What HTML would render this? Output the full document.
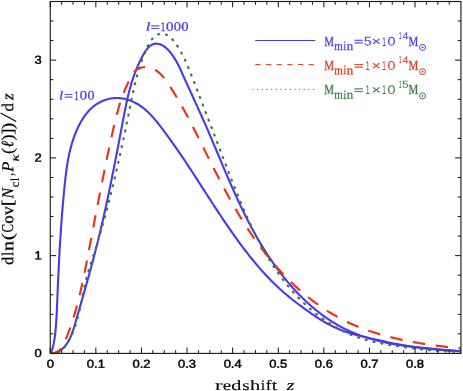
<!DOCTYPE html>
<html><head><meta charset="utf-8"><title>chart</title>
<style>html,body{margin:0;padding:0;background:#fff;}body{width:463px;height:391px;overflow:hidden;font-family:"Liberation Sans",sans-serif;}svg{display:block;will-change:transform;}</style>
</head><body>
<svg width="463" height="391" viewBox="0 0 463 391">
<rect x="0" y="0" width="463" height="391" fill="#fff"/>
<defs><clipPath id="c"><rect x="50.25" y="1.5" width="410.7" height="352.5"/></clipPath></defs>
<g clip-path="url(#c)" fill="none" stroke-linecap="butt" stroke-linejoin="round">
<path d="M50.86,353.10 L51.29,352.07 L51.69,350.92 L52.07,349.76 L52.42,348.60 L52.75,347.43 L53.05,346.26 L53.34,345.08 L53.61,343.89 L53.85,342.70 L54.08,341.51 L54.29,340.31 L54.49,339.10 L54.67,337.90 L54.84,336.69 L55.00,335.47 L55.14,334.26 L55.28,333.04 L55.40,331.83 L55.52,330.61 L55.63,329.39 L55.74,328.17 L55.84,326.95 L55.93,325.73 L56.02,324.52 L56.11,323.30 L56.20,322.08 L56.28,320.86 L56.35,319.65 L56.43,318.43 L56.50,317.21 L56.57,316.00 L56.63,314.78 L56.70,313.56 L56.76,312.35 L56.82,311.13 L56.87,309.91 L56.93,308.70 L56.98,307.48 L57.03,306.27 L57.08,305.05 L57.13,303.83 L57.18,302.62 L57.23,301.40 L57.28,300.18 L57.33,298.97 L57.38,297.75 L57.43,296.53 L57.48,295.32 L57.52,294.10 L57.57,292.88 L57.62,291.67 L57.68,290.45 L57.73,289.23 L57.78,288.01 L57.83,286.79 L57.88,285.58 L57.94,284.36 L57.99,283.14 L58.04,281.92 L58.10,280.70 L58.15,279.48 L58.21,278.26 L58.26,277.04 L58.32,275.83 L58.38,274.61 L58.43,273.39 L58.49,272.17 L58.55,270.95 L58.61,269.73 L58.67,268.51 L58.73,267.29 L58.79,266.07 L58.85,264.85 L58.91,263.63 L58.98,262.41 L59.04,261.19 L59.11,259.97 L59.17,258.75 L59.24,257.53 L59.30,256.31 L59.37,255.09 L59.44,253.87 L59.50,252.65 L59.57,251.42 L59.64,250.20 L59.71,248.98 L59.79,247.76 L59.86,246.54 L59.93,245.32 L60.00,244.10 L60.08,242.88 L60.15,241.66 L60.23,240.44 L60.31,239.21 L60.38,237.99 L60.46,236.77 L60.54,235.55 L60.62,234.33 L60.70,233.11 L60.78,231.89 L60.87,230.67 L60.95,229.45 L61.04,228.23 L61.12,227.00 L61.21,225.78 L61.29,224.56 L61.38,223.34 L61.47,222.12 L61.56,220.90 L61.65,219.68 L61.74,218.46 L61.84,217.24 L61.93,216.02 L62.03,214.79 L62.12,213.57 L62.22,212.35 L62.32,211.13 L62.42,209.91 L62.52,208.69 L62.62,207.47 L62.72,206.25 L62.82,205.03 L62.93,203.81 L63.03,202.59 L63.14,201.37 L63.25,200.15 L63.36,198.93 L63.47,197.71 L63.58,196.49 L63.69,195.27 L63.80,194.05 L63.92,192.83 L64.04,191.61 L64.15,190.39 L64.27,189.17 L64.39,187.95 L64.51,186.73 L64.63,185.52 L64.76,184.30 L64.88,183.08 L65.01,181.86 L65.14,180.64 L65.27,179.43 L65.41,178.21 L65.55,176.99 L65.69,175.78 L65.84,174.56 L65.99,173.35 L66.15,172.14 L66.31,170.92 L66.47,169.71 L66.64,168.50 L66.82,167.29 L67.00,166.09 L67.19,164.88 L67.38,163.68 L67.59,162.47 L67.79,161.27 L68.01,160.07 L68.23,158.87 L68.46,157.67 L68.70,156.48 L68.95,155.28 L69.20,154.09 L69.46,152.90 L69.74,151.71 L70.02,150.52 L70.31,149.34 L70.61,148.16 L70.92,146.98 L71.25,145.80 L71.58,144.62 L71.92,143.45 L72.28,142.28 L72.64,141.11 L73.02,139.95 L73.41,138.78 L73.82,137.62 L74.23,136.47 L74.66,135.31 L75.10,134.16 L75.56,133.01 L76.03,131.86 L76.51,130.72 L77.01,129.58 L77.52,128.45 L78.05,127.32 L78.59,126.20 L79.14,125.08 L79.72,123.98 L80.31,122.88 L80.92,121.80 L81.54,120.72 L82.18,119.66 L82.84,118.61 L83.51,117.58 L84.21,116.56 L84.92,115.56 L85.65,114.58 L86.41,113.62 L87.18,112.67 L87.97,111.75 L88.78,110.84 L89.61,109.96 L90.47,109.11 L91.34,108.28 L92.24,107.47 L93.15,106.69 L94.09,105.94 L95.06,105.22 L96.04,104.52 L97.05,103.86 L98.08,103.23 L99.14,102.63 L100.22,102.06 L101.32,101.53 L102.43,101.03 L103.57,100.57 L104.72,100.15 L105.88,99.76 L107.06,99.41 L108.24,99.09 L109.44,98.82 L110.65,98.58 L111.86,98.39 L113.08,98.24 L114.30,98.12 L115.52,98.06 L116.75,98.03 L117.97,98.05 L119.19,98.11 L120.41,98.21 L121.62,98.36 L122.83,98.55 L124.03,98.77 L125.23,99.04 L126.42,99.34 L127.60,99.67 L128.77,100.05 L129.93,100.45 L131.07,100.89 L132.21,101.36 L133.33,101.86 L134.43,102.39 L135.52,102.95 L136.60,103.53 L137.66,104.14 L138.69,104.77 L139.71,105.43 L140.72,106.11 L141.70,106.81 L142.67,107.54 L143.63,108.28 L144.57,109.05 L145.49,109.83 L146.40,110.63 L147.30,111.45 L148.18,112.28 L149.05,113.13 L149.91,114.00 L150.76,114.88 L151.60,115.77 L152.43,116.67 L153.24,117.58 L154.05,118.51 L154.86,119.44 L155.65,120.39 L156.43,121.34 L157.21,122.29 L157.99,123.26 L158.75,124.23 L159.52,125.20 L160.27,126.18 L161.03,127.16 L161.78,128.14 L162.52,129.13 L163.27,130.11 L164.01,131.10 L164.75,132.09 L165.49,133.08 L166.22,134.07 L166.95,135.06 L167.68,136.06 L168.41,137.05 L169.13,138.05 L169.85,139.05 L170.57,140.05 L171.28,141.05 L172.00,142.05 L172.71,143.05 L173.42,144.05 L174.13,145.06 L174.83,146.06 L175.53,147.07 L176.24,148.07 L176.93,149.08 L177.63,150.09 L178.33,151.10 L179.02,152.11 L179.71,153.12 L180.40,154.14 L181.09,155.15 L181.78,156.17 L182.46,157.18 L183.15,158.20 L183.83,159.21 L184.51,160.23 L185.19,161.25 L185.87,162.27 L186.54,163.29 L187.22,164.31 L187.89,165.33 L188.57,166.35 L189.24,167.37 L189.91,168.39 L190.58,169.41 L191.25,170.43 L191.92,171.46 L192.58,172.48 L193.25,173.50 L193.92,174.53 L194.58,175.55 L195.25,176.58 L195.91,177.60 L196.57,178.63 L197.23,179.65 L197.90,180.68 L198.56,181.71 L199.22,182.73 L199.88,183.76 L200.54,184.79 L201.20,185.81 L201.86,186.84 L202.52,187.86 L203.18,188.89 L203.85,189.92 L204.51,190.94 L205.17,191.97 L205.83,193.00 L206.49,194.02 L207.15,195.05 L207.81,196.07 L208.47,197.10 L209.13,198.12 L209.79,199.15 L210.46,200.17 L211.12,201.20 L211.78,202.22 L212.45,203.25 L213.11,204.27 L213.78,205.29 L214.45,206.32 L215.11,207.34 L215.78,208.36 L216.45,209.38 L217.12,210.40 L217.79,211.42 L218.46,212.44 L219.14,213.46 L219.81,214.48 L220.49,215.50 L221.16,216.52 L221.84,217.53 L222.52,218.55 L223.20,219.56 L223.88,220.58 L224.57,221.59 L225.25,222.60 L225.94,223.61 L226.63,224.62 L227.32,225.63 L228.01,226.64 L228.70,227.65 L229.40,228.66 L230.09,229.67 L230.79,230.67 L231.50,231.67 L232.20,232.68 L232.90,233.68 L233.61,234.68 L234.32,235.68 L235.03,236.68 L235.75,237.68 L236.46,238.67 L237.18,239.67 L237.90,240.66 L238.62,241.65 L239.35,242.65 L240.08,243.63 L240.81,244.62 L241.54,245.61 L242.28,246.59 L243.02,247.58 L243.76,248.56 L244.50,249.54 L245.25,250.51 L246.00,251.49 L246.75,252.46 L247.51,253.43 L248.26,254.40 L249.02,255.36 L249.79,256.33 L250.56,257.29 L251.33,258.25 L252.10,259.20 L252.87,260.15 L253.65,261.10 L254.44,262.05 L255.22,262.99 L256.01,263.93 L256.80,264.87 L257.60,265.80 L258.40,266.73 L259.20,267.66 L260.01,268.58 L260.81,269.50 L261.63,270.42 L262.44,271.33 L263.26,272.24 L264.09,273.14 L264.91,274.04 L265.74,274.93 L266.58,275.83 L267.41,276.71 L268.26,277.60 L269.10,278.47 L269.95,279.35 L270.80,280.22 L271.66,281.08 L272.52,281.94 L273.39,282.80 L274.26,283.65 L275.13,284.50 L276.01,285.34 L276.90,286.18 L277.78,287.01 L278.68,287.84 L279.58,288.67 L280.48,289.49 L281.39,290.30 L282.30,291.11 L283.22,291.92 L284.14,292.72 L285.06,293.52 L285.99,294.31 L286.93,295.10 L287.86,295.88 L288.81,296.66 L289.75,297.44 L290.70,298.21 L291.66,298.98 L292.62,299.75 L293.58,300.51 L294.54,301.26 L295.51,302.02 L296.48,302.77 L297.46,303.51 L298.43,304.25 L299.41,304.99 L300.40,305.73 L301.39,306.46 L302.38,307.19 L303.37,307.91 L304.36,308.63 L305.36,309.35 L306.36,310.06 L307.36,310.78 L308.37,311.48 L309.38,312.19 L310.39,312.89 L311.40,313.59 L312.41,314.29 L313.43,314.98 L314.45,315.67 L315.47,316.35 L316.50,317.02 L317.52,317.70 L318.56,318.36 L319.59,319.02 L320.63,319.67 L321.68,320.31 L322.72,320.94 L323.77,321.57 L324.83,322.19 L325.89,322.79 L326.96,323.39 L328.03,323.98 L329.11,324.55 L330.19,325.12 L331.28,325.67 L332.37,326.21 L333.47,326.74 L334.57,327.25 L335.68,327.76 L336.80,328.25 L337.92,328.74 L339.04,329.21 L340.17,329.67 L341.30,330.11 L342.44,330.55 L343.58,330.98 L344.73,331.39 L345.88,331.80 L347.04,332.19 L348.20,332.57 L349.36,332.94 L350.53,333.31 L351.70,333.66 L352.87,334.00 L354.05,334.34 L355.23,334.66 L356.41,334.98 L357.60,335.29 L358.79,335.60 L359.98,335.90 L361.17,336.19 L362.36,336.48 L363.56,336.77 L364.75,337.05 L365.95,337.33 L367.14,337.60 L368.34,337.88 L369.54,338.15 L370.74,338.42 L371.93,338.69 L373.13,338.97 L374.33,339.24 L375.53,339.51 L376.72,339.78 L377.92,340.05 L379.11,340.32 L380.31,340.59 L381.51,340.86 L382.70,341.13 L383.90,341.39 L385.10,341.65 L386.29,341.91 L387.49,342.17 L388.69,342.43 L389.89,342.68 L391.08,342.93 L392.28,343.18 L393.48,343.42 L394.68,343.66 L395.88,343.90 L397.08,344.13 L398.28,344.36 L399.49,344.59 L400.69,344.81 L401.89,345.02 L403.10,345.23 L404.30,345.44 L405.51,345.65 L406.71,345.85 L407.92,346.04 L409.13,346.23 L410.34,346.42 L411.55,346.61 L412.76,346.79 L413.97,346.96 L415.18,347.14 L416.39,347.30 L417.60,347.47 L418.81,347.63 L420.03,347.79 L421.24,347.94 L422.45,348.09 L423.67,348.24 L424.88,348.38 L426.10,348.52 L427.31,348.66 L428.53,348.79 L429.75,348.92 L430.96,349.05 L432.18,349.17 L433.40,349.29 L434.62,349.41 L435.84,349.52 L437.06,349.63 L438.28,349.73 L439.50,349.83 L440.72,349.93 L441.94,350.03 L443.16,350.12 L444.38,350.21 L445.60,350.30 L446.82,350.38 L448.05,350.46 L449.27,350.54 L450.49,350.62 L451.71,350.69 L452.94,350.76 L454.16,350.82 L455.39,350.89 L456.61,350.95 L457.83,351.00 L459.06,351.06 L460.28,351.11 L461.50,351.16" stroke="#4c38ea" stroke-width="2.1"/>
<path d="M50.60,353.05 L52.00,353.10 L53.44,353.10 L54.81,352.92 L56.13,352.58 L57.39,352.12 L58.59,351.54 L59.74,350.86 L60.83,350.10 L61.87,349.27 L62.86,348.38 L63.79,347.45 L64.68,346.49 L65.51,345.49 L66.30,344.46 L67.05,343.39 L67.76,342.30 L68.43,341.18 L69.07,340.03 L69.67,338.86 L70.24,337.67 L70.78,336.45 L71.30,335.22 L71.79,333.97 L72.26,332.71 L72.71,331.43 L73.14,330.14 L73.56,328.84 L73.97,327.54 L74.37,326.22 L74.75,324.91 L75.14,323.59 L75.52,322.27 L75.90,320.95 L76.28,319.63 L76.66,318.32 L77.04,317.00 L77.42,315.69 L77.80,314.38 L78.18,313.07 L78.55,311.76 L78.93,310.45 L79.31,309.14 L79.69,307.84 L80.06,306.53 L80.44,305.23 L80.81,303.92 L81.19,302.62 L81.56,301.32 L81.94,300.02 L82.31,298.71 L82.68,297.42 L83.05,296.12 L83.43,294.82 L83.80,293.52 L84.17,292.22 L84.54,290.93 L84.90,289.63 L85.27,288.33 L85.64,287.04 L86.00,285.74 L86.37,284.45 L86.73,283.16 L87.09,281.86 L87.46,280.57 L87.82,279.27 L88.18,277.98 L88.54,276.69 L88.89,275.39 L89.25,274.10 L89.61,272.81 L89.96,271.51 L90.32,270.22 L90.67,268.93 L91.02,267.63 L91.37,266.34 L91.72,265.05 L92.07,263.75 L92.41,262.46 L92.76,261.16 L93.10,259.87 L93.44,258.57 L93.78,257.27 L94.12,255.98 L94.46,254.68 L94.80,253.38 L95.13,252.08 L95.47,250.79 L95.80,249.49 L96.13,248.19 L96.46,246.88 L96.79,245.58 L97.11,244.28 L97.44,242.98 L97.76,241.67 L98.08,240.37 L98.40,239.06 L98.72,237.76 L99.04,236.45 L99.35,235.14 L99.67,233.83 L99.98,232.52 L100.29,231.21 L100.60,229.90 L100.91,228.59 L101.22,227.28 L101.53,225.97 L101.83,224.66 L102.13,223.34 L102.44,222.03 L102.74,220.72 L103.04,219.40 L103.34,218.09 L103.63,216.77 L103.93,215.46 L104.22,214.14 L104.52,212.82 L104.81,211.50 L105.10,210.19 L105.39,208.87 L105.68,207.55 L105.97,206.23 L106.26,204.91 L106.54,203.59 L106.83,202.27 L107.11,200.95 L107.39,199.63 L107.68,198.31 L107.96,196.99 L108.24,195.67 L108.51,194.34 L108.79,193.02 L109.07,191.70 L109.35,190.38 L109.62,189.05 L109.89,187.73 L110.17,186.41 L110.44,185.08 L110.71,183.76 L110.98,182.43 L111.25,181.11 L111.52,179.78 L111.79,178.46 L112.06,177.13 L112.33,175.81 L112.59,174.49 L112.86,173.16 L113.12,171.83 L113.39,170.51 L113.65,169.18 L113.91,167.86 L114.17,166.53 L114.43,165.21 L114.70,163.88 L114.96,162.56 L115.22,161.23 L115.47,159.91 L115.73,158.58 L115.99,157.26 L116.25,155.93 L116.50,154.61 L116.76,153.28 L117.02,151.96 L117.27,150.63 L117.53,149.31 L117.78,147.98 L118.03,146.66 L118.29,145.33 L118.54,144.01 L118.79,142.68 L119.05,141.36 L119.30,140.04 L119.55,138.71 L119.80,137.39 L120.05,136.07 L120.30,134.75 L120.55,133.42 L120.80,132.10 L121.05,130.78 L121.30,129.46 L121.55,128.14 L121.80,126.82 L122.05,125.50 L122.30,124.18 L122.55,122.86 L122.80,121.54 L123.05,120.22 L123.29,118.90 L123.54,117.58 L123.79,116.26 L124.05,114.95 L124.30,113.63 L124.55,112.31 L124.81,111.00 L125.07,109.68 L125.33,108.37 L125.60,107.06 L125.87,105.74 L126.14,104.43 L126.42,103.12 L126.70,101.81 L126.99,100.50 L127.29,99.20 L127.58,97.89 L127.89,96.58 L128.20,95.28 L128.52,93.97 L128.84,92.67 L129.18,91.37 L129.52,90.07 L129.86,88.77 L130.22,87.47 L130.59,86.18 L130.96,84.88 L131.34,83.59 L131.74,82.30 L132.14,81.01 L132.56,79.72 L132.98,78.43 L133.42,77.14 L133.86,75.86 L134.32,74.58 L134.79,73.30 L135.28,72.02 L135.77,70.74 L136.28,69.46 L136.81,68.19 L137.34,66.92 L137.90,65.65 L138.46,64.38 L139.04,63.11 L139.64,61.85 L140.25,60.59 L140.88,59.33 L141.52,58.07 L142.18,56.81 L142.86,55.56 L143.55,54.32 L144.27,53.10 L145.01,51.91 L145.77,50.76 L146.56,49.66 L147.38,48.63 L148.23,47.66 L149.10,46.77 L150.02,45.97 L150.96,45.27 L151.95,44.68 L152.97,44.21 L154.04,43.87 L155.14,43.67 L156.30,43.61 L157.49,43.71 L158.71,43.95 L159.95,44.32 L161.18,44.81 L162.41,45.42 L163.60,46.13 L164.76,46.94 L165.89,47.82 L166.97,48.78 L168.02,49.81 L169.03,50.89 L170.01,52.01 L170.94,53.17 L171.84,54.35 L172.69,55.54 L173.51,56.74 L174.29,57.94 L175.04,59.13 L175.75,60.33 L176.43,61.52 L177.09,62.71 L177.72,63.90 L178.33,65.10 L178.92,66.29 L179.50,67.48 L180.06,68.67 L180.61,69.86 L181.15,71.05 L181.69,72.25 L182.23,73.45 L182.76,74.64 L183.30,75.84 L183.84,77.04 L184.38,78.25 L184.93,79.45 L185.47,80.66 L186.02,81.87 L186.57,83.08 L187.12,84.29 L187.68,85.51 L188.23,86.72 L188.78,87.94 L189.34,89.15 L189.90,90.37 L190.46,91.60 L191.01,92.82 L191.57,94.04 L192.13,95.27 L192.69,96.49 L193.26,97.72 L193.82,98.95 L194.38,100.18 L194.94,101.41 L195.50,102.64 L196.06,103.87 L196.63,105.10 L197.19,106.34 L197.75,107.57 L198.31,108.81 L198.87,110.04 L199.43,111.28 L199.99,112.52 L200.54,113.76 L201.10,115.00 L201.65,116.23 L202.21,117.47 L202.76,118.71 L203.31,119.96 L203.86,121.20 L204.41,122.44 L204.96,123.68 L205.51,124.92 L206.05,126.16 L206.59,127.41 L207.13,128.65 L207.67,129.89 L208.21,131.13 L208.74,132.38 L209.28,133.62 L209.81,134.86 L210.34,136.10 L210.87,137.35 L211.40,138.59 L211.93,139.83 L212.46,141.08 L212.98,142.32 L213.51,143.56 L214.03,144.80 L214.56,146.05 L215.08,147.29 L215.60,148.53 L216.13,149.77 L216.65,151.01 L217.17,152.26 L217.69,153.50 L218.21,154.74 L218.73,155.98 L219.25,157.22 L219.77,158.46 L220.30,159.70 L220.82,160.94 L221.34,162.18 L221.86,163.41 L222.38,164.65 L222.90,165.89 L223.43,167.13 L223.95,168.36 L224.47,169.60 L225.00,170.83 L225.52,172.07 L226.05,173.30 L226.58,174.54 L227.10,175.77 L227.63,177.00 L228.16,178.23 L228.69,179.46 L229.23,180.69 L229.76,181.92 L230.30,183.15 L230.83,184.38 L231.37,185.61 L231.91,186.83 L232.45,188.06 L233.00,189.28 L233.54,190.51 L234.09,191.73 L234.64,192.95 L235.19,194.17 L235.74,195.39 L236.30,196.61 L236.85,197.83 L237.41,199.05 L237.97,200.26 L238.54,201.48 L239.11,202.69 L239.67,203.91 L240.25,205.12 L240.82,206.33 L241.40,207.54 L241.98,208.75 L242.56,209.95 L243.15,211.16 L243.74,212.36 L244.33,213.57 L244.93,214.77 L245.53,215.97 L246.13,217.17 L246.73,218.37 L247.34,219.56 L247.96,220.76 L248.57,221.95 L249.19,223.15 L249.82,224.34 L250.44,225.53 L251.08,226.71 L251.71,227.90 L252.35,229.09 L252.99,230.27 L253.64,231.45 L254.29,232.63 L254.95,233.81 L255.61,234.99 L256.28,236.16 L256.95,237.34 L257.62,238.51 L258.30,239.68 L258.98,240.85 L259.67,242.01 L260.36,243.18 L261.06,244.34 L261.77,245.50 L262.47,246.66 L263.19,247.82 L263.90,248.97 L264.63,250.13 L265.35,251.28 L266.09,252.43 L266.83,253.57 L267.57,254.71 L268.32,255.85 L269.07,256.99 L269.83,258.12 L270.59,259.25 L271.36,260.38 L272.13,261.50 L272.91,262.62 L273.69,263.74 L274.48,264.85 L275.28,265.96 L276.07,267.07 L276.88,268.17 L277.69,269.27 L278.50,270.36 L279.32,271.45 L280.15,272.54 L280.97,273.62 L281.81,274.69 L282.65,275.77 L283.50,276.83 L284.35,277.90 L285.20,278.95 L286.06,280.00 L286.93,281.05 L287.80,282.09 L288.68,283.13 L289.56,284.16 L290.45,285.19 L291.34,286.21 L292.24,287.22 L293.14,288.23 L294.05,289.24 L294.97,290.23 L295.89,291.22 L296.81,292.21 L297.74,293.19 L298.68,294.16 L299.62,295.13 L300.57,296.09 L301.52,297.04 L302.48,297.98 L303.44,298.92 L304.41,299.85 L305.39,300.78 L306.37,301.70 L307.35,302.61 L308.34,303.51 L309.34,304.41 L310.34,305.30 L311.35,306.18 L312.37,307.05 L313.38,307.91 L314.41,308.77 L315.44,309.62 L316.48,310.46 L317.52,311.29 L318.57,312.12 L319.62,312.94 L320.68,313.74 L321.74,314.54 L322.81,315.33 L323.89,316.11 L324.97,316.89 L326.06,317.65 L327.15,318.40 L328.25,319.15 L329.35,319.88 L330.46,320.61 L331.58,321.33 L332.70,322.04 L333.83,322.73 L334.96,323.42 L336.10,324.10 L337.25,324.77 L338.40,325.42 L339.56,326.07 L340.72,326.71 L341.89,327.34 L343.06,327.95 L344.25,328.56 L345.43,329.15 L346.63,329.74 L347.82,330.31 L349.03,330.87 L350.24,331.43 L351.46,331.97 L352.68,332.50 L353.91,333.01 L355.14,333.52 L356.38,334.01 L357.63,334.50 L358.88,334.97 L360.14,335.43 L361.40,335.88 L362.67,336.32 L363.95,336.75 L365.23,337.17 L366.51,337.58 L367.80,337.98 L369.09,338.37 L370.39,338.74 L371.69,339.11 L373.00,339.47 L374.31,339.83 L375.62,340.17 L376.94,340.50 L378.26,340.83 L379.58,341.14 L380.91,341.45 L382.24,341.75 L383.58,342.05 L384.91,342.33 L386.25,342.61 L387.60,342.88 L388.94,343.14 L390.29,343.40 L391.64,343.64 L392.99,343.89 L394.34,344.12 L395.70,344.35 L397.05,344.57 L398.41,344.79 L399.77,345.00 L401.13,345.21 L402.49,345.41 L403.85,345.60 L405.22,345.79 L406.58,345.97 L407.94,346.15 L409.31,346.33 L410.67,346.50 L412.04,346.67 L413.40,346.83 L414.77,346.99 L416.13,347.14 L417.49,347.29 L418.85,347.44 L420.22,347.58 L421.58,347.73 L422.93,347.86 L424.29,348.00 L425.65,348.13 L427.00,348.26 L428.36,348.39 L429.71,348.52 L431.06,348.64 L432.40,348.77 L433.75,348.89 L435.09,349.01 L436.43,349.13 L437.77,349.24 L439.10,349.36 L440.43,349.48 L441.76,349.59 L443.08,349.71 L444.41,349.82 L445.72,349.94 L447.04,350.06 L448.35,350.17 L449.65,350.29 L450.95,350.41 L452.25,350.52 L453.54,350.64 L454.83,350.76 L456.12,350.89 L457.40,351.01 L458.67,351.14 L459.94,351.26 L461.20,351.39" stroke="#4c38ea" stroke-width="2.1"/>
<path d="M50.60,353.10 L51.99,353.10 L53.41,352.99 L54.73,352.72 L55.95,352.33 L57.07,351.83 L58.11,351.22 L59.06,350.51 L59.94,349.71 L60.76,348.83 L61.51,347.89 L62.21,346.87 L62.86,345.81 L63.47,344.70 L64.04,343.55 L64.58,342.37 L65.10,341.17 L65.60,339.96 L66.09,338.75 L66.57,337.54 L67.04,336.32 L67.51,335.11 L67.97,333.90 L68.42,332.69 L68.86,331.49 L69.30,330.28 L69.73,329.07 L70.15,327.86 L70.57,326.65 L70.98,325.45 L71.39,324.24 L71.79,323.03 L72.18,321.82 L72.57,320.61 L72.95,319.40 L73.33,318.19 L73.70,316.98 L74.07,315.77 L74.43,314.56 L74.78,313.35 L75.13,312.13 L75.48,310.92 L75.82,309.70 L76.16,308.48 L76.50,307.26 L76.83,306.04 L77.16,304.82 L77.48,303.60 L77.80,302.37 L78.11,301.14 L78.43,299.92 L78.74,298.69 L79.04,297.46 L79.34,296.22 L79.64,294.99 L79.94,293.75 L80.23,292.52 L80.52,291.28 L80.81,290.04 L81.10,288.80 L81.38,287.56 L81.66,286.32 L81.93,285.08 L82.21,283.83 L82.48,282.59 L82.75,281.35 L83.02,280.10 L83.29,278.85 L83.55,277.61 L83.81,276.36 L84.07,275.11 L84.33,273.86 L84.58,272.61 L84.84,271.36 L85.09,270.11 L85.34,268.86 L85.59,267.61 L85.84,266.35 L86.09,265.10 L86.34,263.85 L86.58,262.60 L86.83,261.34 L87.07,260.09 L87.31,258.84 L87.56,257.59 L87.80,256.33 L88.04,255.08 L88.28,253.83 L88.52,252.57 L88.76,251.32 L89.00,250.07 L89.24,248.82 L89.47,247.56 L89.71,246.31 L89.95,245.06 L90.19,243.81 L90.43,242.56 L90.67,241.31 L90.90,240.06 L91.14,238.80 L91.38,237.55 L91.62,236.30 L91.85,235.05 L92.09,233.80 L92.33,232.55 L92.57,231.30 L92.80,230.05 L93.04,228.81 L93.28,227.56 L93.52,226.31 L93.75,225.06 L93.99,223.81 L94.23,222.56 L94.47,221.31 L94.70,220.06 L94.94,218.82 L95.18,217.57 L95.42,216.32 L95.66,215.07 L95.90,213.82 L96.13,212.58 L96.37,211.33 L96.61,210.08 L96.85,208.84 L97.09,207.59 L97.33,206.34 L97.57,205.09 L97.81,203.85 L98.05,202.60 L98.29,201.35 L98.54,200.11 L98.78,198.86 L99.02,197.61 L99.26,196.37 L99.50,195.12 L99.75,193.87 L99.99,192.63 L100.24,191.38 L100.48,190.14 L100.73,188.89 L100.97,187.64 L101.22,186.40 L101.46,185.15 L101.71,183.91 L101.96,182.66 L102.21,181.41 L102.45,180.17 L102.70,178.92 L102.95,177.68 L103.20,176.43 L103.46,175.18 L103.71,173.94 L103.96,172.69 L104.21,171.45 L104.47,170.20 L104.72,168.95 L104.97,167.71 L105.23,166.46 L105.49,165.22 L105.74,163.97 L106.00,162.72 L106.26,161.48 L106.52,160.23 L106.78,158.98 L107.04,157.74 L107.30,156.49 L107.57,155.25 L107.83,154.00 L108.09,152.75 L108.36,151.51 L108.62,150.26 L108.89,149.01 L109.16,147.77 L109.43,146.52 L109.70,145.27 L109.97,144.02 L110.24,142.78 L110.51,141.53 L110.79,140.28 L111.06,139.03 L111.34,137.79 L111.61,136.54 L111.89,135.29 L112.17,134.04 L112.45,132.80 L112.73,131.55 L113.01,130.30 L113.30,129.05 L113.58,127.80 L113.87,126.55 L114.16,125.31 L114.45,124.06 L114.75,122.81 L115.05,121.57 L115.35,120.32 L115.65,119.08 L115.96,117.84 L116.28,116.60 L116.60,115.36 L116.92,114.12 L117.25,112.89 L117.58,111.66 L117.92,110.42 L118.27,109.20 L118.62,107.97 L118.98,106.74 L119.34,105.52 L119.72,104.31 L120.10,103.09 L120.48,101.88 L120.88,100.67 L121.29,99.46 L121.70,98.26 L122.12,97.06 L122.55,95.87 L122.99,94.68 L123.44,93.49 L123.90,92.31 L124.38,91.13 L124.86,89.96 L125.35,88.79 L125.85,87.63 L126.37,86.47 L126.90,85.31 L127.44,84.16 L127.99,83.02 L128.55,81.88 L129.13,80.75 L129.72,79.62 L130.32,78.50 L130.94,77.39 L131.58,76.28 L132.22,75.18 L132.89,74.09 L133.59,73.03 L134.33,72.02 L135.14,71.07 L136.03,70.20 L137.00,69.42 L138.08,68.77 L139.25,68.23 L140.51,67.81 L141.82,67.50 L143.15,67.29 L144.49,67.18 L145.81,67.16 L147.09,67.23 L148.33,67.37 L149.54,67.60 L150.71,67.90 L151.85,68.28 L152.95,68.72 L154.03,69.22 L155.08,69.79 L156.09,70.42 L157.08,71.11 L158.05,71.84 L158.99,72.62 L159.90,73.45 L160.80,74.32 L161.67,75.23 L162.52,76.18 L163.35,77.15 L164.17,78.16 L164.97,79.19 L165.76,80.24 L166.53,81.31 L167.29,82.40 L168.03,83.49 L168.77,84.60 L169.50,85.71 L170.22,86.82 L170.94,87.93 L171.65,89.05 L172.35,90.16 L173.05,91.27 L173.74,92.38 L174.42,93.49 L175.10,94.61 L175.77,95.72 L176.44,96.83 L177.10,97.94 L177.76,99.05 L178.41,100.16 L179.06,101.27 L179.70,102.39 L180.34,103.50 L180.97,104.61 L181.60,105.72 L182.22,106.84 L182.85,107.95 L183.46,109.06 L184.07,110.17 L184.68,111.29 L185.29,112.40 L185.89,113.52 L186.49,114.63 L187.09,115.75 L187.68,116.86 L188.27,117.98 L188.86,119.09 L189.45,120.21 L190.03,121.33 L190.61,122.45 L191.19,123.57 L191.77,124.69 L192.35,125.81 L192.92,126.93 L193.50,128.05 L194.07,129.17 L194.64,130.29 L195.21,131.42 L195.78,132.54 L196.35,133.67 L196.92,134.79 L197.48,135.92 L198.05,137.05 L198.62,138.18 L199.18,139.30 L199.75,140.43 L200.32,141.57 L200.88,142.70 L201.45,143.83 L202.01,144.96 L202.58,146.09 L203.14,147.23 L203.71,148.36 L204.28,149.49 L204.84,150.63 L205.41,151.76 L205.97,152.90 L206.54,154.03 L207.11,155.17 L207.68,156.30 L208.24,157.44 L208.81,158.57 L209.38,159.71 L209.95,160.84 L210.52,161.98 L211.09,163.12 L211.66,164.25 L212.23,165.39 L212.81,166.52 L213.38,167.66 L213.96,168.79 L214.53,169.93 L215.11,171.06 L215.69,172.19 L216.27,173.33 L216.85,174.46 L217.43,175.59 L218.01,176.73 L218.59,177.86 L219.18,178.99 L219.77,180.12 L220.35,181.25 L220.94,182.38 L221.53,183.51 L222.13,184.64 L222.72,185.76 L223.32,186.89 L223.92,188.02 L224.52,189.14 L225.12,190.26 L225.72,191.39 L226.33,192.51 L226.93,193.63 L227.54,194.75 L228.15,195.87 L228.77,196.99 L229.38,198.10 L230.00,199.22 L230.62,200.33 L231.24,201.45 L231.87,202.56 L232.50,203.67 L233.13,204.78 L233.76,205.88 L234.39,206.99 L235.03,208.09 L235.67,209.20 L236.31,210.30 L236.96,211.40 L237.61,212.50 L238.26,213.59 L238.91,214.69 L239.57,215.78 L240.23,216.87 L240.89,217.96 L241.56,219.05 L242.23,220.14 L242.90,221.22 L243.58,222.30 L244.25,223.38 L244.94,224.46 L245.62,225.54 L246.31,226.61 L247.00,227.69 L247.70,228.76 L248.40,229.82 L249.10,230.89 L249.81,231.95 L250.52,233.01 L251.23,234.07 L251.95,235.13 L252.67,236.18 L253.40,237.23 L254.13,238.28 L254.86,239.33 L255.60,240.37 L256.34,241.42 L257.09,242.45 L257.84,243.49 L258.59,244.52 L259.35,245.55 L260.11,246.58 L260.88,247.61 L261.64,248.63 L262.42,249.65 L263.20,250.66 L263.98,251.67 L264.76,252.68 L265.55,253.69 L266.34,254.69 L267.14,255.69 L267.94,256.69 L268.75,257.68 L269.56,258.67 L270.37,259.66 L271.19,260.64 L272.01,261.62 L272.83,262.59 L273.66,263.56 L274.49,264.53 L275.33,265.49 L276.17,266.45 L277.02,267.41 L277.87,268.36 L278.72,269.31 L279.58,270.25 L280.44,271.19 L281.30,272.13 L282.17,273.06 L283.05,273.98 L283.93,274.91 L284.81,275.82 L285.69,276.74 L286.58,277.65 L287.48,278.55 L288.38,279.45 L289.28,280.35 L290.18,281.24 L291.09,282.12 L292.01,283.00 L292.93,283.88 L293.85,284.75 L294.78,285.62 L295.71,286.48 L296.64,287.34 L297.58,288.19 L298.53,289.04 L299.47,289.88 L300.42,290.71 L301.38,291.54 L302.34,292.37 L303.30,293.19 L304.27,294.00 L305.25,294.81 L306.22,295.62 L307.20,296.41 L308.19,297.21 L309.18,297.99 L310.17,298.77 L311.17,299.55 L312.17,300.32 L313.18,301.08 L314.19,301.84 L315.20,302.59 L316.22,303.34 L317.24,304.08 L318.27,304.81 L319.30,305.54 L320.34,306.26 L321.38,306.97 L322.42,307.68 L323.47,308.38 L324.52,309.08 L325.58,309.77 L326.64,310.45 L327.70,311.13 L328.77,311.80 L329.85,312.46 L330.93,313.12 L332.01,313.76 L333.10,314.41 L334.19,315.04 L335.28,315.67 L336.38,316.29 L337.49,316.91 L338.59,317.51 L339.71,318.12 L340.82,318.71 L341.94,319.29 L343.07,319.87 L344.20,320.44 L345.33,321.01 L346.47,321.56 L347.61,322.11 L348.76,322.66 L349.91,323.19 L351.07,323.72 L352.23,324.24 L353.39,324.75 L354.56,325.25 L355.73,325.75 L356.91,326.24 L358.09,326.72 L359.27,327.20 L360.46,327.67 L361.65,328.13 L362.84,328.58 L364.04,329.03 L365.24,329.47 L366.45,329.91 L367.65,330.34 L368.86,330.76 L370.08,331.17 L371.29,331.58 L372.51,331.98 L373.73,332.38 L374.96,332.77 L376.18,333.15 L377.41,333.53 L378.64,333.90 L379.88,334.27 L381.11,334.63 L382.35,334.98 L383.59,335.33 L384.84,335.68 L386.08,336.01 L387.33,336.34 L388.57,336.67 L389.82,336.99 L391.08,337.31 L392.33,337.62 L393.58,337.92 L394.84,338.22 L396.10,338.52 L397.35,338.81 L398.61,339.09 L399.87,339.37 L401.14,339.64 L402.40,339.91 L403.66,340.18 L404.93,340.44 L406.19,340.70 L407.46,340.95 L408.72,341.20 L409.99,341.44 L411.25,341.68 L412.52,341.91 L413.79,342.14 L415.05,342.37 L416.32,342.59 L417.59,342.81 L418.85,343.02 L420.12,343.23 L421.39,343.44 L422.65,343.64 L423.92,343.84 L425.18,344.04 L426.45,344.23 L427.71,344.42 L428.97,344.60 L430.24,344.78 L431.50,344.96 L432.76,345.14 L434.01,345.31 L435.27,345.48 L436.53,345.64 L437.78,345.81 L439.04,345.97 L440.29,346.12 L441.54,346.28 L442.79,346.43 L444.04,346.58 L445.28,346.73 L446.52,346.87 L447.76,347.01 L449.00,347.15 L450.24,347.29 L451.48,347.42 L452.71,347.56 L453.94,347.69 L455.17,347.82 L456.39,347.94 L457.61,348.07 L458.83,348.19 L460.05,348.31 L461.26,348.43" stroke="#e8341a" stroke-width="2.15" stroke-dasharray="12.5 10.54" stroke-dashoffset="0.64"/>
<path d="M50.60,353.10 L52.08,353.10 L53.61,353.10 L55.06,353.04 L56.43,352.74 L57.73,352.32 L58.95,351.79 L60.10,351.15 L61.19,350.42 L62.23,349.60 L63.20,348.70 L64.12,347.72 L65.00,346.69 L65.83,345.60 L66.62,344.47 L67.37,343.30 L68.09,342.10 L68.78,340.89 L69.45,339.66 L70.09,338.43 L70.71,337.18 L71.31,335.93 L71.89,334.67 L72.44,333.40 L72.98,332.12 L73.49,330.84 L73.99,329.55 L74.47,328.25 L74.93,326.95 L75.38,325.64 L75.81,324.32 L76.22,323.00 L76.62,321.68 L77.01,320.35 L77.38,319.02 L77.75,317.68 L78.10,316.34 L78.44,314.99 L78.77,313.65 L79.09,312.30 L79.40,310.94 L79.71,309.59 L80.00,308.23 L80.30,306.88 L80.58,305.52 L80.86,304.16 L81.14,302.80 L81.42,301.43 L81.69,300.07 L81.96,298.71 L82.23,297.35 L82.50,295.99 L82.77,294.63 L83.05,293.27 L83.32,291.91 L83.60,290.55 L83.88,289.20 L84.17,287.85 L84.46,286.50 L84.76,285.15 L85.07,283.80 L85.38,282.46 L85.71,281.12 L86.04,279.78 L86.38,278.45 L86.73,277.12 L87.10,275.80 L87.47,274.47 L87.85,273.15 L88.24,271.84 L88.64,270.52 L89.04,269.21 L89.45,267.90 L89.86,266.59 L90.28,265.28 L90.70,263.98 L91.12,262.67 L91.55,261.36 L91.97,260.06 L92.40,258.75 L92.82,257.44 L93.25,256.13 L93.67,254.83 L94.09,253.51 L94.50,252.20 L94.92,250.89 L95.33,249.57 L95.74,248.26 L96.15,246.94 L96.56,245.62 L96.96,244.31 L97.37,242.99 L97.77,241.66 L98.17,240.34 L98.56,239.02 L98.96,237.69 L99.35,236.37 L99.74,235.04 L100.13,233.72 L100.52,232.39 L100.90,231.06 L101.28,229.73 L101.66,228.40 L102.04,227.06 L102.42,225.73 L102.80,224.40 L103.17,223.06 L103.54,221.73 L103.91,220.39 L104.28,219.06 L104.65,217.72 L105.01,216.38 L105.37,215.04 L105.73,213.70 L106.09,212.36 L106.45,211.02 L106.81,209.68 L107.16,208.34 L107.51,206.99 L107.86,205.65 L108.21,204.31 L108.56,202.96 L108.91,201.62 L109.25,200.27 L109.59,198.92 L109.94,197.58 L110.28,196.23 L110.61,194.88 L110.95,193.53 L111.29,192.19 L111.62,190.84 L111.95,189.49 L112.28,188.14 L112.61,186.79 L112.94,185.44 L113.27,184.09 L113.59,182.74 L113.91,181.39 L114.24,180.04 L114.56,178.69 L114.88,177.33 L115.20,175.98 L115.51,174.63 L115.83,173.28 L116.14,171.93 L116.46,170.58 L116.77,169.22 L117.08,167.87 L117.39,166.52 L117.70,165.17 L118.00,163.81 L118.31,162.46 L118.61,161.11 L118.92,159.76 L119.22,158.40 L119.52,157.05 L119.82,155.70 L120.12,154.35 L120.42,153.00 L120.71,151.65 L121.01,150.29 L121.30,148.94 L121.60,147.59 L121.89,146.24 L122.18,144.89 L122.47,143.54 L122.76,142.19 L123.05,140.84 L123.34,139.49 L123.63,138.14 L123.91,136.80 L124.20,135.45 L124.48,134.10 L124.76,132.75 L125.05,131.41 L125.33,130.06 L125.61,128.71 L125.89,127.37 L126.17,126.02 L126.45,124.68 L126.72,123.34 L127.00,121.99 L127.28,120.65 L127.55,119.31 L127.83,117.97 L128.10,116.63 L128.38,115.29 L128.65,113.95 L128.92,112.61 L129.19,111.27 L129.46,109.93 L129.73,108.60 L130.00,107.26 L130.27,105.93 L130.54,104.59 L130.81,103.26 L131.08,101.93 L131.35,100.59 L131.62,99.26 L131.89,97.93 L132.17,96.60 L132.45,95.27 L132.73,93.94 L133.01,92.60 L133.30,91.27 L133.59,89.94 L133.88,88.61 L134.18,87.27 L134.49,85.94 L134.80,84.61 L135.12,83.27 L135.44,81.94 L135.77,80.60 L136.11,79.26 L136.46,77.92 L136.81,76.58 L137.17,75.24 L137.54,73.90 L137.92,72.55 L138.31,71.21 L138.71,69.86 L139.12,68.51 L139.54,67.16 L139.97,65.81 L140.41,64.45 L140.87,63.09 L141.34,61.73 L141.82,60.37 L142.31,59.00 L142.82,57.64 L143.34,56.27 L143.87,54.89 L144.42,53.52 L144.99,52.14 L145.57,50.76 L146.16,49.38 L146.78,48.02 L147.42,46.67 L148.08,45.35 L148.77,44.07 L149.48,42.82 L150.22,41.63 L151.00,40.49 L151.80,39.41 L152.64,38.41 L153.52,37.48 L154.43,36.64 L155.38,35.89 L156.38,35.24 L157.42,34.70 L158.51,34.28 L159.64,33.97 L160.81,33.80 L162.00,33.75 L163.19,33.83 L164.39,34.04 L165.56,34.39 L166.70,34.86 L167.80,35.47 L168.88,36.18 L169.93,37.00 L170.94,37.90 L171.93,38.88 L172.88,39.93 L173.81,41.04 L174.71,42.19 L175.58,43.38 L176.43,44.58 L177.25,45.80 L178.04,47.02 L178.81,48.25 L179.56,49.49 L180.28,50.73 L180.98,51.97 L181.67,53.22 L182.33,54.47 L182.98,55.73 L183.61,56.99 L184.22,58.25 L184.82,59.52 L185.40,60.79 L185.98,62.06 L186.54,63.34 L187.09,64.62 L187.63,65.89 L188.17,67.18 L188.69,68.46 L189.21,69.74 L189.73,71.02 L190.24,72.31 L190.75,73.59 L191.26,74.88 L191.76,76.16 L192.27,77.45 L192.77,78.73 L193.27,80.02 L193.78,81.30 L194.28,82.59 L194.78,83.87 L195.28,85.15 L195.78,86.44 L196.28,87.72 L196.77,89.00 L197.27,90.29 L197.77,91.57 L198.27,92.85 L198.76,94.13 L199.26,95.42 L199.75,96.70 L200.25,97.98 L200.74,99.27 L201.23,100.55 L201.73,101.83 L202.22,103.11 L202.71,104.40 L203.20,105.68 L203.70,106.96 L204.19,108.24 L204.68,109.53 L205.17,110.81 L205.66,112.09 L206.15,113.38 L206.64,114.66 L207.13,115.94 L207.62,117.22 L208.11,118.51 L208.60,119.79 L209.09,121.08 L209.58,122.36 L210.07,123.64 L210.56,124.93 L211.04,126.21 L211.53,127.50 L212.02,128.78 L212.51,130.06 L213.00,131.35 L213.49,132.64 L213.98,133.92 L214.47,135.21 L214.96,136.49 L215.45,137.78 L215.94,139.06 L216.43,140.35 L216.92,141.64 L217.41,142.93 L217.90,144.21 L218.40,145.50 L218.89,146.79 L219.38,148.08 L219.87,149.37 L220.37,150.66 L220.86,151.95 L221.35,153.24 L221.85,154.53 L222.34,155.82 L222.84,157.11 L223.33,158.40 L223.83,159.69 L224.33,160.99 L224.82,162.28 L225.32,163.57 L225.82,164.87 L226.32,166.16 L226.82,167.46 L227.32,168.75 L227.82,170.05 L228.33,171.34 L228.83,172.64 L229.33,173.94 L229.84,175.23 L230.34,176.53 L230.85,177.83 L231.36,179.13 L231.87,180.43 L232.38,181.72 L232.89,183.02 L233.40,184.32 L233.92,185.62 L234.43,186.92 L234.95,188.21 L235.47,189.51 L235.99,190.81 L236.52,192.10 L237.04,193.40 L237.57,194.69 L238.10,195.99 L238.63,197.28 L239.16,198.57 L239.70,199.86 L240.23,201.15 L240.77,202.44 L241.32,203.73 L241.86,205.02 L242.41,206.30 L242.96,207.59 L243.51,208.87 L244.06,210.15 L244.62,211.43 L245.18,212.71 L245.75,213.99 L246.31,215.26 L246.88,216.53 L247.46,217.81 L248.03,219.08 L248.61,220.34 L249.19,221.61 L249.78,222.87 L250.37,224.14 L250.96,225.39 L251.56,226.65 L252.16,227.91 L252.76,229.16 L253.37,230.41 L253.98,231.66 L254.59,232.90 L255.21,234.14 L255.83,235.38 L256.46,236.62 L257.09,237.85 L257.73,239.08 L258.37,240.31 L259.01,241.54 L259.66,242.76 L260.31,243.98 L260.97,245.19 L261.63,246.40 L262.30,247.61 L262.97,248.82 L263.65,250.02 L264.33,251.22 L265.01,252.41 L265.70,253.60 L266.40,254.79 L267.10,255.97 L267.81,257.15 L268.52,258.33 L269.24,259.50 L269.96,260.66 L270.69,261.83 L271.42,262.99 L272.16,264.14 L272.90,265.29 L273.65,266.44 L274.41,267.58 L275.17,268.71 L275.94,269.85 L276.71,270.97 L277.49,272.10 L278.28,273.22 L279.07,274.33 L279.87,275.44 L280.67,276.54 L281.48,277.64 L282.30,278.73 L283.12,279.82 L283.95,280.90 L284.79,281.98 L285.64,283.05 L286.49,284.12 L287.34,285.18 L288.21,286.23 L289.08,287.28 L289.96,288.33 L290.84,289.37 L291.73,290.40 L292.63,291.42 L293.54,292.45 L294.45,293.46 L295.38,294.47 L296.31,295.47 L297.24,296.47 L298.19,297.46 L299.14,298.44 L300.10,299.42 L301.07,300.39 L302.04,301.35 L303.02,302.31 L304.02,303.26 L305.02,304.20 L306.02,305.14 L307.04,306.07 L308.06,306.99 L309.09,307.91 L310.14,308.82 L311.18,309.72 L312.24,310.62 L313.31,311.51 L314.38,312.39 L315.47,313.26 L316.56,314.13 L317.66,314.98 L318.77,315.83 L319.89,316.68 L321.02,317.51 L322.15,318.33 L323.29,319.15 L324.44,319.96 L325.60,320.76 L326.77,321.54 L327.94,322.32 L329.12,323.09 L330.31,323.85 L331.50,324.59 L332.70,325.33 L333.91,326.05 L335.12,326.77 L336.34,327.47 L337.57,328.16 L338.80,328.83 L340.03,329.50 L341.28,330.15 L342.53,330.79 L343.78,331.41 L345.04,332.03 L346.30,332.62 L347.57,333.21 L348.84,333.78 L350.12,334.33 L351.40,334.87 L352.69,335.40 L353.98,335.91 L355.27,336.40 L356.57,336.88 L357.87,337.34 L359.18,337.79 L360.48,338.22 L361.79,338.64 L363.11,339.05 L364.43,339.44 L365.75,339.82 L367.07,340.19 L368.40,340.54 L369.73,340.89 L371.06,341.22 L372.39,341.54 L373.73,341.85 L375.07,342.16 L376.41,342.45 L377.76,342.73 L379.10,343.01 L380.45,343.28 L381.80,343.54 L383.15,343.79 L384.51,344.04 L385.86,344.28 L387.22,344.52 L388.58,344.75 L389.94,344.97 L391.30,345.20 L392.66,345.41 L394.03,345.63 L395.39,345.84 L396.76,346.05 L398.13,346.25 L399.49,346.45 L400.86,346.66 L402.23,346.86 L403.60,347.05 L404.97,347.25 L406.35,347.44 L407.72,347.63 L409.09,347.81 L410.47,347.99 L411.84,348.17 L413.21,348.35 L414.59,348.53 L415.97,348.70 L417.34,348.86 L418.72,349.03 L420.10,349.19 L421.47,349.35 L422.85,349.50 L424.23,349.65 L425.61,349.79 L426.99,349.94 L428.37,350.07 L429.75,350.21 L431.13,350.34 L432.51,350.46 L433.89,350.58 L435.27,350.70 L436.65,350.81 L438.03,350.92 L439.41,351.02 L440.79,351.12 L442.17,351.21 L443.55,351.30 L444.94,351.38 L446.32,351.46 L447.70,351.53 L449.08,351.60 L450.46,351.66 L451.84,351.72 L453.22,351.77 L454.60,351.82 L455.98,351.86 L457.36,351.89 L458.74,351.92 L460.11,351.94 L461.49,351.95" stroke="#3a7a42" stroke-width="2.2" stroke-dasharray="1.0 7.035" stroke-linecap="round" stroke-dashoffset="0.3"/>
</g>
<path d="M50.25,353.4v-5.9M50.25,1.5v5.9M61.65,353.4v-3.2M61.65,1.5v3.2M73.05,353.4v-3.2M73.05,1.5v3.2M84.45,353.4v-3.2M84.45,1.5v3.2M95.85,353.4v-5.9M95.85,1.5v5.9M107.25,353.4v-3.2M107.25,1.5v3.2M118.65,353.4v-3.2M118.65,1.5v3.2M130.05,353.4v-3.2M130.05,1.5v3.2M141.45,353.4v-5.9M141.45,1.5v5.9M152.85,353.4v-3.2M152.85,1.5v3.2M164.25,353.4v-3.2M164.25,1.5v3.2M175.65,353.4v-3.2M175.65,1.5v3.2M187.05,353.4v-5.9M187.05,1.5v5.9M198.45,353.4v-3.2M198.45,1.5v3.2M209.85,353.4v-3.2M209.85,1.5v3.2M221.25,353.4v-3.2M221.25,1.5v3.2M232.65,353.4v-5.9M232.65,1.5v5.9M244.05,353.4v-3.2M244.05,1.5v3.2M255.45,353.4v-3.2M255.45,1.5v3.2M266.85,353.4v-3.2M266.85,1.5v3.2M278.25,353.4v-5.9M278.25,1.5v5.9M289.65,353.4v-3.2M289.65,1.5v3.2M301.05,353.4v-3.2M301.05,1.5v3.2M312.45,353.4v-3.2M312.45,1.5v3.2M323.85,353.4v-5.9M323.85,1.5v5.9M335.25,353.4v-3.2M335.25,1.5v3.2M346.65,353.4v-3.2M346.65,1.5v3.2M358.05,353.4v-3.2M358.05,1.5v3.2M369.45,353.4v-5.9M369.45,1.5v5.9M380.85,353.4v-3.2M380.85,1.5v3.2M392.25,353.4v-3.2M392.25,1.5v3.2M403.65,353.4v-3.2M403.65,1.5v3.2M415.05,353.4v-5.9M415.05,1.5v5.9M426.45,353.4v-3.2M426.45,1.5v3.2M437.85,353.4v-3.2M437.85,1.5v3.2M449.25,353.4v-3.2M449.25,1.5v3.2M50.25,353.40h5.9M460.95,353.40h-5.9M50.25,333.85h3.2M460.95,333.85h-3.2M50.25,314.30h3.2M460.95,314.30h-3.2M50.25,294.75h3.2M460.95,294.75h-3.2M50.25,275.20h3.2M460.95,275.20h-3.2M50.25,255.65h5.9M460.95,255.65h-5.9M50.25,236.10h3.2M460.95,236.10h-3.2M50.25,216.55h3.2M460.95,216.55h-3.2M50.25,197.00h3.2M460.95,197.00h-3.2M50.25,177.45h3.2M460.95,177.45h-3.2M50.25,157.90h5.9M460.95,157.90h-5.9M50.25,138.35h3.2M460.95,138.35h-3.2M50.25,118.80h3.2M460.95,118.80h-3.2M50.25,99.25h3.2M460.95,99.25h-3.2M50.25,79.70h3.2M460.95,79.70h-3.2M50.25,60.15h5.9M460.95,60.15h-5.9M50.25,40.60h3.2M460.95,40.60h-3.2M50.25,21.05h3.2M460.95,21.05h-3.2" stroke="#111" stroke-width="1.0" fill="none"/>
<rect x="50.25" y="1.5" width="410.7" height="351.9" fill="none" stroke="#151515" stroke-width="1.1"/>
<g font-family="Liberation Sans, sans-serif" font-size="11.6" fill="#000" stroke="#000" stroke-width="0.45">
<text transform="translate(50.25,367.85) rotate(0.03) scale(1.12,1)" text-anchor="middle">0</text>
<text transform="translate(95.85,367.85) rotate(0.03) scale(1.12,1)" text-anchor="middle">0.1</text>
<text transform="translate(141.45,367.85) rotate(0.03) scale(1.12,1)" text-anchor="middle">0.2</text>
<text transform="translate(187.05,367.85) rotate(0.03) scale(1.12,1)" text-anchor="middle">0.3</text>
<text transform="translate(232.65,367.85) rotate(0.03) scale(1.12,1)" text-anchor="middle">0.4</text>
<text transform="translate(278.25,367.85) rotate(0.03) scale(1.12,1)" text-anchor="middle">0.5</text>
<text transform="translate(323.85,367.85) rotate(0.03) scale(1.12,1)" text-anchor="middle">0.6</text>
<text transform="translate(369.45,367.85) rotate(0.03) scale(1.12,1)" text-anchor="middle">0.7</text>
<text transform="translate(415.05,367.85) rotate(0.03) scale(1.12,1)" text-anchor="middle">0.8</text>
<text transform="translate(41.7,357.10) rotate(0.03) scale(1.12,1)" text-anchor="end">0</text>
<text transform="translate(41.7,259.35) rotate(0.03) scale(1.12,1)" text-anchor="end">1</text>
<text transform="translate(41.7,161.60) rotate(0.03) scale(1.12,1)" text-anchor="end">2</text>
<text transform="translate(41.7,63.85) rotate(0.03) scale(1.12,1)" text-anchor="end">3</text>
</g>
<g fill="#000" stroke="#000" stroke-width="0.1">
<text transform="translate(214.95,390.00) rotate(0.03) scale(1.565,1.000)" font-family="Liberation Serif, serif" font-size="14.5" >r</text>
<text transform="translate(222.85,390.00) rotate(0.03) scale(1.323,1.000)" font-family="Liberation Serif, serif" font-size="14.5" >e</text>
<text transform="translate(231.28,390.00) rotate(0.03) scale(1.388,1.000)" font-family="Liberation Serif, serif" font-size="14.5" >d</text>
<text transform="translate(242.22,390.00) rotate(0.03) scale(1.304,1.000)" font-family="Liberation Serif, serif" font-size="14.5" >s</text>
<text transform="translate(250.00,390.00) rotate(0.03) scale(1.402,1.000)" font-family="Liberation Serif, serif" font-size="14.5" >h</text>
<text transform="translate(260.86,390.00) rotate(0.03) scale(1.101,1.000)" font-family="Liberation Serif, serif" font-size="14.5" >i</text>
<text transform="translate(265.67,390.00) rotate(0.03) scale(1.187,1.000)" font-family="Liberation Serif, serif" font-size="14.5" >f</text>
<text transform="translate(271.80,390.00) rotate(0.03) scale(1.369,1.000)" font-family="Liberation Serif, serif" font-size="14.5" >t</text>
<text transform="translate(286.52,390.00) rotate(0.03) scale(1.390,1.000)" font-family="Liberation Serif, serif" font-size="14.5" font-style="italic" >z</text>
</g>
<g transform="translate(13.2,264.3) rotate(-90)" fill="#000" stroke="#000" stroke-width="0.18">
<text transform="translate(-0.57,0.00) rotate(0.03) scale(1.021,1.070)" font-family="Liberation Serif, serif" font-size="15.6" >d</text>
<text transform="translate(8.40,0.00) rotate(0.03) scale(0.970,1.070)" font-family="Liberation Serif, serif" font-size="15.6" >l</text>
<text transform="translate(13.34,0.00) rotate(0.03) scale(1.277,1.070)" font-family="Liberation Serif, serif" font-size="15.6" >n</text>
<text transform="translate(24.14,0.00) rotate(0.03) scale(1.397,1.070)" font-family="Liberation Serif, serif" font-size="15.6" >(</text>
<text transform="translate(31.78,0.00) rotate(0.03) scale(0.820,1.070)" font-family="Liberation Serif, serif" font-size="15.6" >C</text>
<text transform="translate(40.45,0.00) rotate(0.03) scale(1.089,1.070)" font-family="Liberation Serif, serif" font-size="15.6" >o</text>
<text transform="translate(49.30,0.00) rotate(0.03) scale(1.115,1.070)" font-family="Liberation Serif, serif" font-size="15.6" >v</text>
<text transform="translate(57.97,0.00) rotate(0.03) scale(1.322,1.070)" font-family="Liberation Serif, serif" font-size="15.6" >[</text>
<text transform="translate(65.81,0.00) rotate(0.03) scale(1.015,1.070)" font-family="Liberation Serif, serif" font-size="15.6" font-style="italic" >N</text>
<text transform="translate(77.13,5.60) rotate(0.03) scale(1.136,1.070)" font-family="Liberation Serif, serif" font-size="10.8" >c</text>
<text transform="translate(83.05,5.60) rotate(0.03) scale(1.167,1.070)" font-family="Liberation Serif, serif" font-size="10.8" >l</text>
<text transform="translate(88.39,0.00) rotate(0.03) scale(0.860,1.070)" font-family="Liberation Serif, serif" font-size="15.6" >,</text>
<text transform="translate(92.48,0.00) rotate(0.03) scale(1.063,1.070)" font-family="Liberation Serif, serif" font-size="15.6" font-style="italic" >P</text>
<text transform="translate(102.75,5.60) rotate(0.03) scale(1.366,1.070)" font-family="Liberation Serif, serif" font-size="10.8" font-style="italic" >κ</text>
<text transform="translate(110.31,0.00) rotate(0.03) scale(1.147,1.070)" font-family="Liberation Serif, serif" font-size="15.6" >(</text>
<text transform="translate(116.87,0.00) rotate(0.03) scale(1.000,1.117)" font-family="Liberation Serif, serif" font-size="15.6" font-style="italic" >ℓ</text>
<text transform="translate(123.71,0.00) rotate(0.03) scale(1.172,1.070)" font-family="Liberation Serif, serif" font-size="15.6" >)</text>
<text transform="translate(129.84,0.00) rotate(0.03) scale(1.179,1.070)" font-family="Liberation Serif, serif" font-size="15.6" >]</text>
<text transform="translate(134.96,0.00) rotate(0.03) scale(1.272,1.070)" font-family="Liberation Serif, serif" font-size="15.6" >)</text>
<path d="M142.9,3.0L151.3,-12.6" stroke="#000" stroke-width="1.1" fill="none"/>
<text transform="translate(152.69,0.00) rotate(0.03) scale(1.078,1.070)" font-family="Liberation Serif, serif" font-size="15.6" >d</text>
<text transform="translate(164.19,0.00) rotate(0.03) scale(1.093,1.070)" font-family="Liberation Serif, serif" font-size="15.6" font-style="italic" >z</text>
</g>
<g fill="#4c38ea" stroke="#4c38ea" stroke-width="0.25">
<text transform="translate(59.09,99.50) rotate(0.03) scale(1.212,0.983)" font-family="Liberation Serif, serif" font-size="12.6" font-style="italic" >l</text>
<text transform="translate(63.90,100.00) rotate(0.03) scale(1.263,1.000)" font-family="Liberation Serif, serif" font-size="12.6" >=</text>
<text transform="translate(74.30,99.50) rotate(0.03) scale(0.722,1.034)" font-family="Liberation Serif, serif" font-size="12.6" >1</text>
<text transform="translate(79.74,99.50) rotate(0.03) scale(1.161,1.026)" font-family="Liberation Serif, serif" font-size="12.6" >0</text>
<text transform="translate(87.47,99.50) rotate(0.03) scale(1.104,1.026)" font-family="Liberation Serif, serif" font-size="12.6" >0</text>
<text transform="translate(145.81,30.80) rotate(0.03) scale(1.329,0.983)" font-family="Liberation Serif, serif" font-size="12.6" font-style="italic" >l</text>
<text transform="translate(150.56,31.30) rotate(0.03) scale(1.331,1.000)" font-family="Liberation Serif, serif" font-size="12.6" >=</text>
<text transform="translate(160.53,30.80) rotate(0.03) scale(0.789,1.034)" font-family="Liberation Serif, serif" font-size="12.6" >1</text>
<text transform="translate(166.03,30.80) rotate(0.03) scale(1.198,1.026)" font-family="Liberation Serif, serif" font-size="12.6" >0</text>
<text transform="translate(173.75,30.80) rotate(0.03) scale(1.142,1.026)" font-family="Liberation Serif, serif" font-size="12.6" >0</text>
<text transform="translate(181.14,30.80) rotate(0.03) scale(1.161,1.026)" font-family="Liberation Serif, serif" font-size="12.6" >0</text>
</g>
<path d="M255.3,40.5H315.2" stroke="#4c38ea" stroke-width="1"/>
<path d="M255.3,64.6H314" stroke="#e8341a" stroke-width="1" stroke-dasharray="5.3 5.35"/>
<path d="M252.5,89.4H315" stroke="#3a7a42" stroke-width="1" stroke-dasharray="1.1 3.55"/>
<g fill="#4c38ea" stroke="#4c38ea" stroke-width="0.25">
<text transform="translate(324.18,45.50) rotate(0.03) scale(0.830,1.053)" font-family="Liberation Serif, serif" font-size="13.2" >M</text>
<text transform="translate(334.27,50.10) rotate(0.03) scale(0.922,1.026)" font-family="Liberation Serif, serif" font-size="12" >m</text>
<text transform="translate(343.40,50.10) rotate(0.03) scale(0.805,1.057)" font-family="Liberation Serif, serif" font-size="12" >i</text>
<text transform="translate(346.70,50.10) rotate(0.03) scale(1.082,1.026)" font-family="Liberation Serif, serif" font-size="12" >n</text>
<text transform="translate(353.83,45.90) rotate(0.03) scale(1.320,1.000)" font-family="Liberation Serif, serif" font-size="13.2" >=</text>
<text transform="translate(363.83,45.50) rotate(0.03) scale(1.087,0.958)" font-family="Liberation Sans, sans-serif" font-size="13.2" stroke="none">5</text>
<text transform="translate(371.58,45.70) rotate(0.03) scale(1.266,1.000)" font-family="Liberation Serif, serif" font-size="13.2" >×</text>
<text transform="translate(382.04,45.50) rotate(0.03) scale(0.562,0.958)" font-family="Liberation Sans, sans-serif" font-size="13.2" stroke="none">1</text>
<text transform="translate(387.55,45.50) rotate(0.03) scale(1.078,0.944)" font-family="Liberation Sans, sans-serif" font-size="13.2" stroke="none">0</text>
<text transform="translate(398.79,39.20) rotate(0.03) scale(0.545,1.023)" font-family="Liberation Sans, sans-serif" font-size="9.8" stroke="none">1</text>
<text transform="translate(402.55,39.20) rotate(0.03) scale(1.093,1.023)" font-family="Liberation Sans, sans-serif" font-size="9.8" stroke="none">4</text>
<text transform="translate(408.58,45.50) rotate(0.03) scale(0.830,1.053)" font-family="Liberation Serif, serif" font-size="13.2" >M</text>
<circle cx="422.5" cy="47.4" r="3.0" fill="none" stroke="#4c38ea" stroke-width="1.0"/><circle cx="422.5" cy="47.4" r="0.8" fill="#4c38ea"/>
</g>
<g fill="#e8341a" stroke="#e8341a" stroke-width="0.25">
<text transform="translate(324.18,69.75) rotate(0.03) scale(0.830,1.053)" font-family="Liberation Serif, serif" font-size="13.2" >M</text>
<text transform="translate(334.27,74.35) rotate(0.03) scale(0.922,1.026)" font-family="Liberation Serif, serif" font-size="12" >m</text>
<text transform="translate(343.40,74.35) rotate(0.03) scale(0.805,1.057)" font-family="Liberation Serif, serif" font-size="12" >i</text>
<text transform="translate(346.70,74.35) rotate(0.03) scale(1.082,1.026)" font-family="Liberation Serif, serif" font-size="12" >n</text>
<text transform="translate(353.83,70.15) rotate(0.03) scale(1.320,1.000)" font-family="Liberation Serif, serif" font-size="13.2" >=</text>
<text transform="translate(365.40,69.75) rotate(0.03) scale(0.598,0.958)" font-family="Liberation Sans, sans-serif" font-size="13.2" stroke="none">1</text>
<text transform="translate(371.58,69.95) rotate(0.03) scale(1.266,1.000)" font-family="Liberation Serif, serif" font-size="13.2" >×</text>
<text transform="translate(382.04,69.75) rotate(0.03) scale(0.562,0.958)" font-family="Liberation Sans, sans-serif" font-size="13.2" stroke="none">1</text>
<text transform="translate(387.55,69.75) rotate(0.03) scale(1.078,0.944)" font-family="Liberation Sans, sans-serif" font-size="13.2" stroke="none">0</text>
<text transform="translate(398.79,63.45) rotate(0.03) scale(0.545,1.023)" font-family="Liberation Sans, sans-serif" font-size="9.8" stroke="none">1</text>
<text transform="translate(402.55,63.45) rotate(0.03) scale(1.093,1.023)" font-family="Liberation Sans, sans-serif" font-size="9.8" stroke="none">4</text>
<text transform="translate(408.58,69.75) rotate(0.03) scale(0.830,1.053)" font-family="Liberation Serif, serif" font-size="13.2" >M</text>
<circle cx="422.5" cy="71.65" r="3.0" fill="none" stroke="#e8341a" stroke-width="1.0"/><circle cx="422.5" cy="71.65" r="0.8" fill="#e8341a"/>
</g>
<g fill="#3a7a42" stroke="#3a7a42" stroke-width="0.25">
<text transform="translate(324.18,94.00) rotate(0.03) scale(0.830,1.053)" font-family="Liberation Serif, serif" font-size="13.2" >M</text>
<text transform="translate(334.27,98.60) rotate(0.03) scale(0.922,1.026)" font-family="Liberation Serif, serif" font-size="12" >m</text>
<text transform="translate(343.40,98.60) rotate(0.03) scale(0.805,1.057)" font-family="Liberation Serif, serif" font-size="12" >i</text>
<text transform="translate(346.70,98.60) rotate(0.03) scale(1.082,1.026)" font-family="Liberation Serif, serif" font-size="12" >n</text>
<text transform="translate(353.83,94.40) rotate(0.03) scale(1.320,1.000)" font-family="Liberation Serif, serif" font-size="13.2" >=</text>
<text transform="translate(365.40,94.00) rotate(0.03) scale(0.598,0.958)" font-family="Liberation Sans, sans-serif" font-size="13.2" stroke="none">1</text>
<text transform="translate(371.58,94.20) rotate(0.03) scale(1.266,1.000)" font-family="Liberation Serif, serif" font-size="13.2" >×</text>
<text transform="translate(382.04,94.00) rotate(0.03) scale(0.562,0.958)" font-family="Liberation Sans, sans-serif" font-size="13.2" stroke="none">1</text>
<text transform="translate(387.55,94.00) rotate(0.03) scale(1.078,0.944)" font-family="Liberation Sans, sans-serif" font-size="13.2" stroke="none">0</text>
<text transform="translate(398.79,87.70) rotate(0.03) scale(0.545,1.023)" font-family="Liberation Sans, sans-serif" font-size="9.8" stroke="none">1</text>
<text transform="translate(402.34,87.70) rotate(0.03) scale(1.162,1.023)" font-family="Liberation Sans, sans-serif" font-size="9.8" stroke="none">5</text>
<text transform="translate(408.58,94.00) rotate(0.03) scale(0.830,1.053)" font-family="Liberation Serif, serif" font-size="13.2" >M</text>
<circle cx="422.5" cy="95.9" r="3.0" fill="none" stroke="#3a7a42" stroke-width="1.0"/><circle cx="422.5" cy="95.9" r="0.8" fill="#3a7a42"/>
</g>
</svg>
</body></html>
